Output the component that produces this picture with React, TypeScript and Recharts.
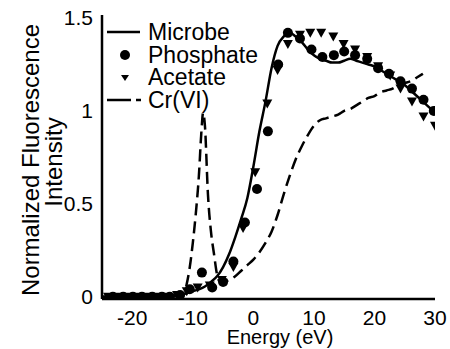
import React from "react";
import {
  ComposedChart,
  Line,
  Scatter,
  XAxis,
  YAxis,
  Legend,
} from "recharts";

// ---- Data ----
const microbeEnergy = [-25, -22, -19, -16, -14, -12, -10, -9, -8, -7, -6, -5, -4, -3, -2, -1, 0, 1, 2, 3, 4, 5, 6, 7, 8, 9, 10, 11, 12, 13, 14, 15, 16, 17, 18, 19, 20, 21, 22, 23, 24, 25, 26, 27, 28, 29, 30];
const microbeIntensity = [0, 0, 0, 0, 0.005, 0.01, 0.03, 0.04, 0.055, 0.08, 0.11, 0.16, 0.23, 0.32, 0.42, 0.53, 0.7, 0.89, 1.05, 1.23, 1.35, 1.4, 1.42, 1.4, 1.37, 1.33, 1.3, 1.28, 1.27, 1.26, 1.26, 1.27, 1.28, 1.27, 1.26, 1.25, 1.24, 1.22, 1.2, 1.18, 1.16, 1.14, 1.11, 1.08, 1.05, 1.02, 0.99];

const crEnergy = [-25, -20, -15, -12, -11.3, -11, -10.5, -10, -9.5, -9, -8.6, -8.3, -8, -7.5, -7, -6.5, -6, -5.5, -5, -4, -3, -2, -1, 0, 1, 2, 3, 4, 5, 6, 7, 8, 9, 10, 11, 12, 13, 14, 15, 16, 17, 18, 19, 20, 21, 22, 23, 24, 25, 26, 27, 28];
const crIntensity = [0, 0, 0, 0.005, 0.03, 0.07, 0.16, 0.29, 0.45, 0.65, 0.88, 0.99, 0.92, 0.55, 0.35, 0.23, 0.12, 0.08, 0.08, 0.09, 0.11, 0.14, 0.17, 0.2, 0.24, 0.29, 0.35, 0.44, 0.55, 0.65, 0.74, 0.81, 0.87, 0.92, 0.95, 0.96, 0.97, 0.98, 1.0, 1.01, 1.03, 1.05, 1.07, 1.08, 1.1, 1.11, 1.12, 1.14, 1.15, 1.16, 1.18, 1.2];

const phosphateEnergy = [-23.2, -21.5, -19.9, -18.4, -16.7, -15.1, -13.8, -12.1, -10.5, -8.5, -6.8, -5, -3.3, -1.4, 0.6, 2.4, 4.1, 5.7, 7.7, 9.6, 11.4, 13.3, 15, 16.8, 18.8, 20.6, 22.4, 24.3, 26.2, 28.1, 29.8];
const phosphateIntensity = [0, 0, 0, 0, 0, 0, 0, 0.01, 0.04, 0.13, 0.05, 0.08, 0.19, 0.4, 0.58, 0.89, 1.25, 1.42, 1.39, 1.33, 1.29, 1.3, 1.32, 1.3, 1.28, 1.23, 1.2, 1.16, 1.12, 1.06, 1.0];

const acetateEnergy = [-24, -22.3, -20.6, -19, -17.4, -15.8, -14.2, -12.6, -11, -9.2, -7.2, -5.2, -3.3, -1.7, 0.3, 2.3, 4.0, 5.7, 7.7, 9.4, 11.2, 13.2, 14.9, 16.8, 18.8, 20.6, 22.6, 24.3, 26.2, 28.1, 30];
const acetateIntensity = [0, 0, 0, 0, 0, 0, 0, 0.01, 0.03, 0.05, 0.06, 0.09, 0.16, 0.37, 0.67, 1.04, 1.22, 1.36, 1.41, 1.42, 1.42, 1.4, 1.36, 1.33, 1.29, 1.24, 1.19, 1.12, 1.05, 0.97, 0.92];

const xTicks = [-20, -10, 0, 10, 20, 30];
const yTicks = [0, 0.5, 1, 1.5];
const seriesNames = ["Microbe", "Phosphate", "Acetate", "Cr(VI)"];
const xLabel = "Energy (eV)";
const yLabelLines = ["Normalized Fluorescence", "Intensity"];

const zip = (xs: number[], ys: number[]) => xs.map((x, i) => ({ x, y: ys[i] }));
const microbeData = zip(microbeEnergy, microbeIntensity);
const crData = zip(crEnergy, crIntensity);
const phosphateData = zip(phosphateEnergy, phosphateIntensity);
const acetateData = zip(acetateEnergy, acetateIntensity);

const FONT = "'Liberation Sans', Arial, Helvetica, sans-serif";

const DownTriangle = (props: any) => {
  const { cx, cy } = props;
  if (cx == null || cy == null) return null;
  return (
    <polygon
      points={`${cx - 5},${cy - 4} ${cx + 5},${cy - 4} ${cx},${cy + 5}`}
      fill="#000"
    />
  );
};

const Dot = (props: any) => {
  const { cx, cy } = props;
  if (cx == null || cy == null) return null;
  return <circle cx={cx} cy={cy} r={5} fill="#000" />;
};

const ROW = 22.7;

const LegendContent = () => {
  const icons = [
    <line x1={3} y1={10} x2={36} y2={10} stroke="#000" strokeWidth={2.5} />,
    <circle cx={21} cy={10} r={5} fill="#000" />,
    <polygon points="17,7 25,7 21,13" fill="#000" />,
    <g>
      <line x1={3} y1={10} x2={27} y2={10} stroke="#000" strokeWidth={2.5} />
      <line x1={32} y1={10} x2={37} y2={10} stroke="#000" strokeWidth={2.5} />
    </g>,
  ];
  return (
    <div style={{ position: "relative", width: 150, height: ROW * 4 }}>
      {seriesNames.map((name, i) => (
        <div
          key={name}
          style={{ position: "absolute", left: 0, top: i * ROW, height: ROW, width: 150 }}
        >
          <svg width={44} height={20} style={{ position: "absolute", left: 0, top: ROW / 2 - 10 }}>
            {icons[i]}
          </svg>
          <span
            style={{
              position: "absolute",
              left: 44,
              top: 0,
              fontSize: 23,
              lineHeight: `${ROW}px`,
              height: ROW,
              fontFamily: FONT,
              color: "#000",
              whiteSpace: "nowrap",
            }}
          >
            {name}
          </span>
        </div>
      ))}
    </div>
  );
};

export default function App() {
  return (
    <div style={{ position: "absolute", left: 0, top: 0, width: 450, height: 349, background: "#fff" }}>
      <ComposedChart
        width={450}
        height={349}
        margin={{ top: 15, right: 15, bottom: 0, left: 0 }}
        style={{ fontFamily: FONT }}
      >
        <XAxis
          dataKey="x"
          type="number"
          domain={[-25, 30]}
          ticks={xTicks}
          allowDataOverflow
          tickLine={false}
          axisLine={{ stroke: "#000", strokeWidth: 2.5 }}
          tick={{ fill: "#000", fontSize: 21, fontFamily: FONT }}
          tickMargin={5}
          height={50}
          label={{
            content: () => (
              <text x={280} y={344} textAnchor="middle" fontSize={20} fill="#000" fontFamily={FONT}>
                {xLabel}
              </text>
            ),
          }}
        />
        <XAxis
          xAxisId="top"
          orientation="top"
          type="number"
          domain={[-25, 30]}
          height={0}
          tick={false}
          tickLine={false}
          axisLine={{ stroke: "#000", strokeWidth: 2.5 }}
        />
        <YAxis
          type="number"
          domain={[-0.012, 1.516]}
          ticks={yTicks}
          allowDataOverflow
          tickLine={false}
          axisLine={{ stroke: "#000", strokeWidth: 2.5 }}
          tick={{ fill: "#000", fontSize: 21, fontFamily: FONT }}
          tickMargin={3}
          width={102}
          label={{
            content: () => (
              <g fontFamily={FONT} fontSize={24} fill="#000">
                <text x={30} y={160} transform="rotate(-90 30 160)" textAnchor="middle" dominantBaseline="central">
                  {yLabelLines[0]}
                </text>
                <text x={53} y={162} transform="rotate(-90 53 162)" textAnchor="middle" dominantBaseline="central">
                  {yLabelLines[1]}
                </text>
              </g>
            ),
          }}
        />
        <YAxis
          yAxisId="right"
          orientation="right"
          type="number"
          domain={[-0.012, 1.516]}
          width={0}
          tick={false}
          tickLine={false}
          axisLine={{ stroke: "#000", strokeWidth: 2.5 }}
        />
        <Legend
          layout="vertical"
          verticalAlign="middle"
          align="center"
          content={<LegendContent />}
          wrapperStyle={{ top: 21, left: 104, width: 150, height: ROW * 4 }}
        />
        <Line
          data={microbeData}
          dataKey="y"
          name="Microbe"
          type="monotone"
          stroke="#000"
          strokeWidth={2.5}
          dot={false}
          activeDot={false}
          isAnimationActive={false}
        />
        <Line
          data={crData}
          dataKey="y"
          name="Cr(VI)"
          type="monotone"
          stroke="#000"
          strokeWidth={2.5}
          strokeDasharray="12 6"
          dot={false}
          activeDot={false}
          isAnimationActive={false}
        />
        <Scatter
          data={phosphateData}
          dataKey="y"
          name="Phosphate"
          shape={<Dot />}
          isAnimationActive={false}
        />
        <Scatter
          data={acetateData}
          dataKey="y"
          name="Acetate"
          shape={<DownTriangle />}
          isAnimationActive={false}
        />
      </ComposedChart>
    </div>
  );
}
